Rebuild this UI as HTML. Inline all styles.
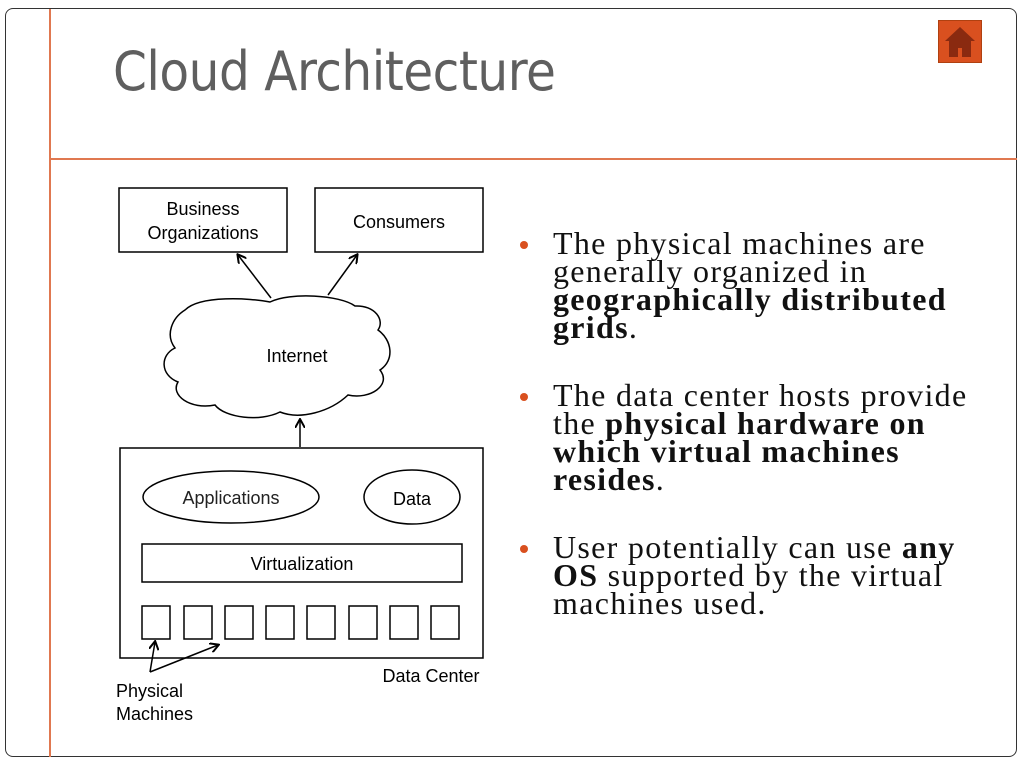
<!DOCTYPE html>
<html><head><style>
body{margin:0;width:1024px;height:768px;background:#fff;position:relative;overflow:hidden;font-family:"Liberation Sans",sans-serif}
.frame{position:absolute;left:5px;top:8px;width:1012px;height:749px;border:1.5px solid #333;border-radius:8px;box-sizing:border-box}
.vl{position:absolute;left:49px;top:9px;width:1.5px;height:748px;background:#e07850}
.hl{position:absolute;left:50px;top:158px;width:967px;height:1.5px;background:#e07850}
h1{position:absolute;left:113px;top:40px;margin:0;font-family:"DejaVu Sans Condensed","Liberation Sans",sans-serif;font-weight:normal;font-size:54px;color:#5f5f5f;letter-spacing:-0.5px;white-space:nowrap}
.home{position:absolute;left:938px;top:20px;width:44px;height:43px;background:#d9501f;border:1px solid #b04010;box-sizing:border-box}
ul{position:absolute;left:520px;top:229px;margin:0;padding:0;list-style:none;font-family:"Liberation Serif",serif;font-size:32px;letter-spacing:1.3px;line-height:28px;color:#111;white-space:nowrap}
li{position:relative;padding-left:33px;margin-bottom:40px}
li:before{content:"";position:absolute;left:0;top:12px;width:8px;height:8px;border-radius:50%;background:#d9501f}
</style></head><body>
<div class="frame"></div><div class="vl"></div><div class="hl"></div>
<h1>Cloud Architecture</h1>
<div class="home"><svg width="42" height="41" viewBox="0 0 42 41"><polygon points="21,6 6,20 36,20" fill="#8a2a10"/><rect x="10" y="20" width="22" height="16" fill="#8a2a10"/><rect x="19" y="27" width="4" height="9" fill="#d9501f"/></svg></div>
<svg style="position:absolute;left:0;top:0" width="1024" height="768" font-family="Liberation Sans, sans-serif" font-size="18">
<defs><marker id="a" markerWidth="10" markerHeight="10" refX="8" refY="5" orient="auto" markerUnits="userSpaceOnUse"><path d="M0,0 L9,5 L0,10" fill="none" stroke="#000" stroke-width="2"/></marker></defs>
<g fill="none" stroke="#000" stroke-width="1.5">
<rect x="119" y="188" width="168" height="64"/>
<rect x="315" y="188" width="168" height="64"/>
<path d="M185,310 C200,295 250,298 270,302 C290,292 340,295 355,306 C375,305 385,320 378,330 C392,340 395,360 380,370 C392,385 370,400 348,395 C330,412 300,420 280,412 C260,422 225,418 215,405 C190,410 170,395 178,382 C160,375 160,355 175,348 C165,335 172,318 185,310 Z"/>
<rect x="120" y="448" width="363" height="210"/>
<ellipse cx="231" cy="497" rx="88" ry="26"/>
<ellipse cx="412" cy="497" rx="48" ry="27"/>
<rect x="142" y="544" width="320" height="38"/>
<rect x="142" y="606" width="28" height="33"/><rect x="184" y="606" width="28" height="33"/><rect x="225" y="606" width="28" height="33"/><rect x="266" y="606" width="28" height="33"/><rect x="307" y="606" width="28" height="33"/><rect x="349" y="606" width="28" height="33"/><rect x="390" y="606" width="28" height="33"/><rect x="431" y="606" width="28" height="33"/>
<line x1="271" y1="298" x2="238" y2="255" marker-end="url(#a)"/>
<line x1="328" y1="295" x2="357" y2="255" marker-end="url(#a)"/>
<line x1="300" y1="447" x2="300" y2="420" marker-end="url(#a)"/>
<line x1="150" y1="672" x2="155" y2="642" marker-end="url(#a)"/>
<line x1="150" y1="672" x2="218" y2="645" marker-end="url(#a)"/>
</g>
<g fill="#000" text-anchor="middle">
<text x="203" y="215">Business</text><text x="203" y="239">Organizations</text>
<text x="399" y="228">Consumers</text>
<text x="297" y="362">Internet</text>
<text x="231" y="504" fill="#222">Applications</text>
<text x="412" y="505">Data</text>
<text x="302" y="570">Virtualization</text>
<text x="431" y="682">Data Center</text>
<text x="116" y="697" text-anchor="start">Physical</text><text x="116" y="720" text-anchor="start">Machines</text>
</g></svg>
<ul>
<li>The physical machines are<br>generally organized in<br><b>geographically distributed</b><br><b>grids</b>.</li>
<li>The data center hosts provide<br>the <b>physical hardware on</b><br><b>which virtual machines</b><br><b>resides</b>.</li>
<li>User potentially can use <b>any</b><br><b>OS</b> supported by the virtual<br>machines used.</li>
</ul>
</body></html>
